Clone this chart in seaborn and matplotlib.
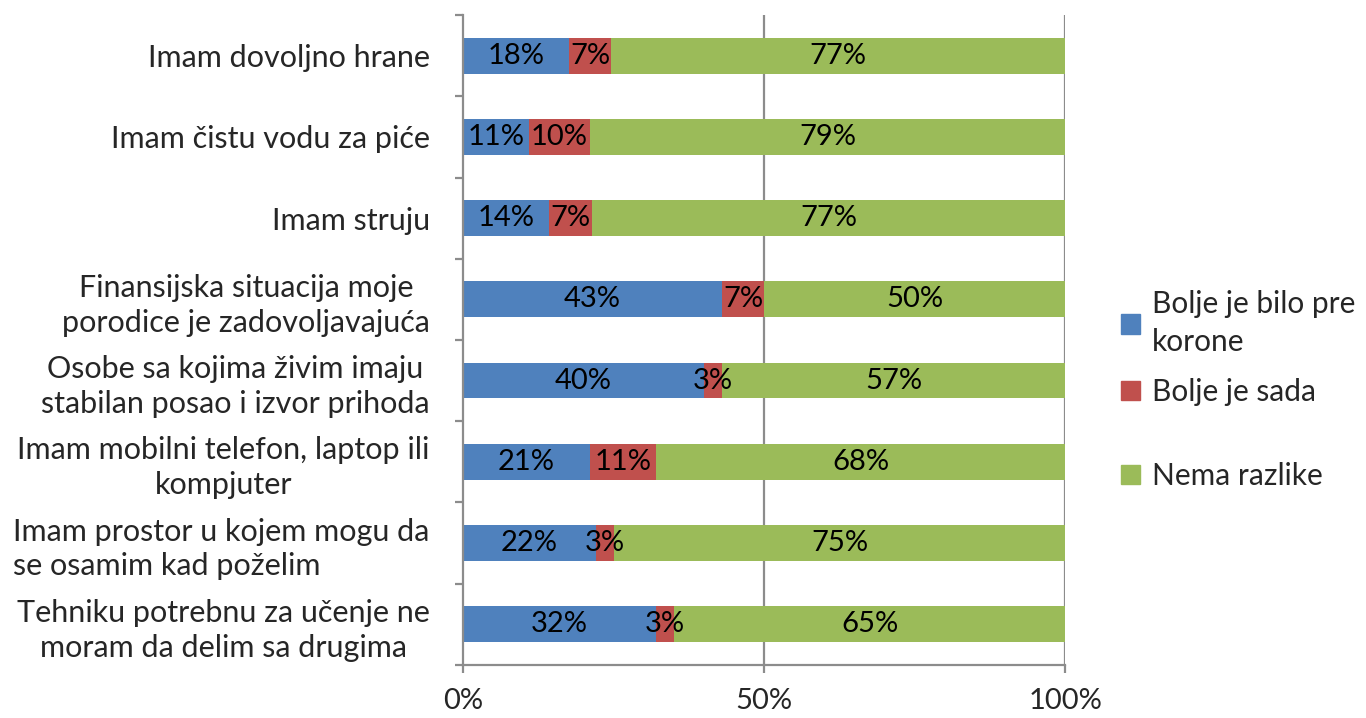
import matplotlib
matplotlib.use("Agg")
import matplotlib.pyplot as plt
import seaborn as sns
import numpy as np
import pandas as pd
from matplotlib.patches import Patch

categories = [
    "Imam dovoljno hrane",
    "Imam čistu vodu za piće",
    "Imam struju",
    "Finansijska situacija moje\nporodice je zadovoljavajuća",
    "Osobe sa kojima živim imaju\nstabilan posao i izvor prihoda",
    "Imam mobilni telefon, laptop ili\nkompjuter",
    "Imam prostor u kojem mogu da\nse osamim kad poželim",
    "Tehniku potrebnu za učenje ne\nmoram da delim sa drugima",
]
bolje_pre = [18, 11, 14, 43, 40, 21, 22, 32]
bolje_sada = [7, 10, 7, 7, 3, 11, 3, 3]
nema_razlike = [77, 79, 77, 50, 57, 68, 75, 65]
series_names = ["Bolje je bilo pre\nkorone", "Bolje je sada", "Nema razlike"]
x_ticks = [0, 50, 100]
x_tick_labels = ["0%", "50%", "100%"]

colors = ["#4F81BD", "#C0504D", "#9BBB59"]

sns.set_theme(style="white")
plt.rcParams["font.family"] = ["Lato", "DejaVu Sans"]

df = pd.DataFrame({"cat": categories, "a": bolje_pre, "b": bolje_sada, "c": nema_razlike})
tot = df[["a", "b", "c"]].sum(axis=1)
df["pa"] = df["a"] / tot * 100
df["pb"] = df["b"] / tot * 100
df["pc"] = df["c"] / tot * 100
df["cum_a"] = df["pa"]
df["cum_b"] = df["pa"] + df["pb"]
df["cum_c"] = df["pa"] + df["pb"] + df["pc"]

fig = plt.figure(figsize=(13.66, 7.18), dpi=100)
ax = fig.add_axes([0.339, 0.074, 0.441, 0.905])

bw = 0.44
for col, c in zip(["cum_c", "cum_b", "cum_a"], colors[::-1]):
    sns.barplot(data=df, x=col, y="cat", orient="h", color=c, width=bw,
                saturation=1, ax=ax, linewidth=0, order=categories)

fs = 22
fs_small = 21
for i, row in df.iterrows():
    starts = [0, row["cum_a"], row["cum_b"]]
    widths = [row["pa"], row["pb"], row["pc"]]
    raw = [row["a"], row["b"], row["c"]]
    for s, w, r in zip(starts, widths, raw):
        ax.text(s + w / 2, i, f"{r}%", ha="center", va="center", fontsize=fs_small, color="black")

ax.set_xlim(0, 100)
ax.set_ylim(len(categories) - 0.5, -0.5)
ax.set_xlabel("")
ax.set_ylabel("")
ax.set_xticks(x_ticks)
ax.set_xticklabels(x_tick_labels, fontsize=fs_small)
ax.set_yticks(range(len(categories)))
ax.set_yticklabels(categories, fontsize=fs, linespacing=1.3)
for lab in ax.get_yticklabels():
    lab.set_multialignment("center")
ax.get_yticklabels()[6].set_multialignment("left")

gray = "#8C8C8C"
for x in [50, 100]:
    ax.axvline(x, color=gray, lw=1.6, zorder=0)
for s in ["top", "right"]:
    ax.spines[s].set_visible(False)
for s in ["left", "bottom"]:
    ax.spines[s].set_color(gray)
    ax.spines[s].set_linewidth(1.6)

ax.tick_params(axis="y", which="major", length=0, pad=24)
ax.set_yticks(np.arange(-0.5, len(categories), 1), minor=True)
ax.tick_params(axis="y", which="minor", left=True, length=6, color=gray, width=1.6)
ax.tick_params(axis="x", which="major", bottom=True, length=6, color=gray, width=1.6, pad=11)

legend_y = [1 - 323 / 718, 1 - 392 / 718, 1 - 476 / 718]
for name, c, y in zip(series_names, colors, legend_y):
    leg = fig.legend([Patch(color=c)], [name], loc="center left", bbox_to_anchor=(0.821, y),
                     frameon=False, fontsize=21.5, handlelength=0.62, handleheight=0.62,
                     handletextpad=0.4, borderpad=0, borderaxespad=0)
    for t in leg.get_texts():
        t.set_linespacing(1.45)

fig.savefig("out.png", dpi=100)
